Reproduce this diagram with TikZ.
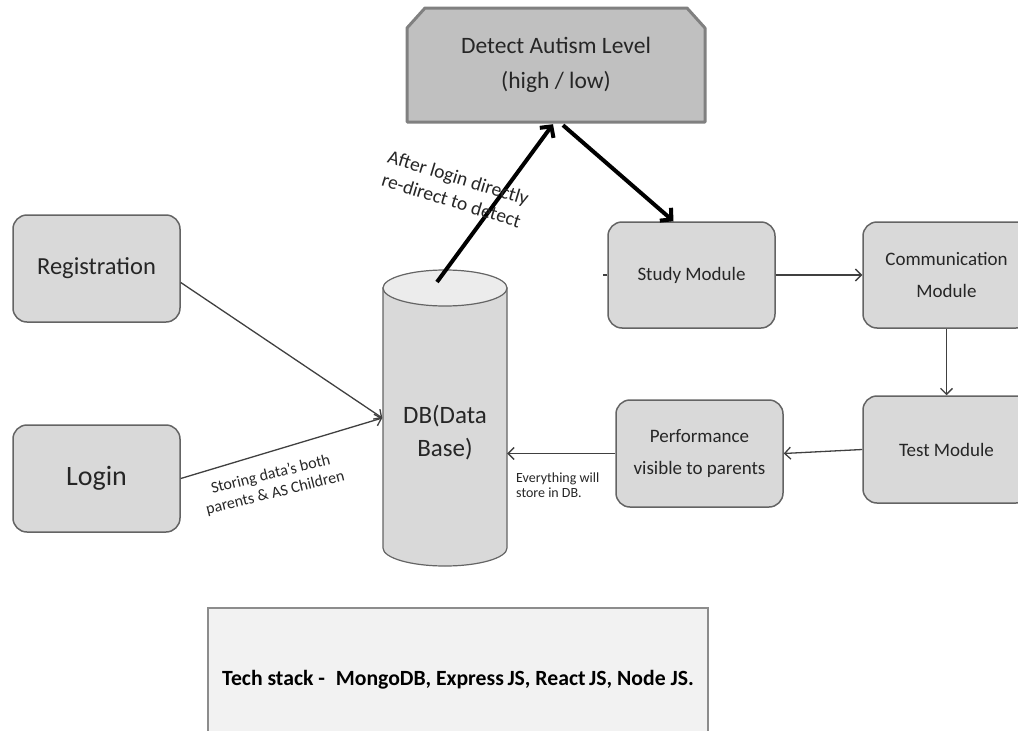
\documentclass[tikz,border=0pt]{standalone}
\usepackage{fontspec}
\setmainfont{Carlito}
\usetikzlibrary{arrows.meta}
\definecolor{txt}{RGB}{38,38,38}
\definecolor{boxfill}{RGB}{217,217,217}
\definecolor{boxline}{RGB}{100,100,100}
\definecolor{detfill}{RGB}{192,192,192}
\definecolor{detline}{RGB}{128,128,128}
\definecolor{dbtopfill}{RGB}{236,236,236}
\definecolor{techfill}{RGB}{242,242,242}
\definecolor{techline}{RGB}{140,140,140}
\definecolor{arr}{RGB}{64,64,64}
\begin{document}
\begin{tikzpicture}[x=1pt,y=-1pt,
  module/.style={draw=boxline, fill=boxfill, line width=1.5pt, rounded corners=14pt,
    minimum width=167pt, minimum height=106pt, inner sep=0pt, align=center, text=txt,
    font=\fontsize{19}{32}\selectfont},
  thinarrow/.style={draw=arr, line width=1.3pt, -{Straight Barb[length=6pt,width=12pt,line width=1.3pt]}},
  thickarrow/.style={draw=black, line width=4pt, -{Straight Barb[length=8pt,width=17pt]}},
  lbl/.style={text=txt, inner sep=0pt}]
\useasboundingbox (0,0) rectangle (1018,731);
\clip (0,0) rectangle (1018,731);

% Detect Autism Level (chamfered top corners)
\draw[draw=detline, fill=detfill, line width=3pt, line join=round]
  (425,8) -- (687,8) -- (705,28) -- (705,122) -- (407,122) -- (407,28) -- cycle;
\node[lbl, align=center, minimum width=298pt, minimum height=114pt,
  font=\fontsize{23.5}{35}\selectfont] (det) at (556,65) {Detect Autism Level\\(high / low)};

% Left boxes
\node[module, font=\fontsize{24.5}{30}\selectfont, minimum height=107pt] (reg) at (96.5,268.5) {Registration};
\node[module, font=\fontsize{28}{30}\selectfont, minimum height=107pt] (login) at (96.5,478.5) {Login};

% Database cylinder
\draw[draw=boxline, fill=boxfill, line width=1.2pt]
  (383,288) -- (383,548) arc[start angle=180, end angle=360, x radius=62pt, y radius=18pt] -- (507,288) -- cycle;
\draw[draw=boxline, fill=dbtopfill, line width=1.2pt] (445,288) ellipse [x radius=62pt, y radius=18pt];
\node[lbl, align=center, minimum width=124pt, font=\fontsize{25}{33}\selectfont] (db) at (445,433) {DB(Data\\Base)};
\coordinate (dbtop) at (437,282);

% Modules
\node[module] (study) at (691.5,275) {Study Module};
\node[module] (comm) at (946.5,275) {Communication\\Module};
\node[module, minimum height=107pt] (test) at (946.5,449.5) {Test Module};
\node[module, minimum height=107pt] (perf) at (699.5,453.5) {Performance\\visible to parents};

% Tech stack
\node[draw=techline, fill=techfill, line width=1.5pt, minimum width=500pt, minimum height=144pt,
  inner sep=0pt, text=black, font=\fontsize{21.7}{25}\selectfont\bfseries] (tech) at (458,680)
  {Tech stack -\enspace MongoDB, Express\,JS, React\,JS, Node JS.};

% Thick arrows
\draw[thickarrow] (dbtop) -- ([xshift=-3pt,yshift=-2pt]det.south);
\draw[thickarrow] ([xshift=7pt,yshift=-3pt]det.south) -- ([xshift=-18pt]study.north);

% Thin arrows
\draw[thinarrow] ([yshift=-14pt]reg.east) -- ([yshift=15pt,xshift=-0.5pt]db.west);
\draw[thinarrow] (login.east) -- ([yshift=15pt,xshift=-0.5pt]db.west);
\draw[thinarrow] (study.east) -- (comm.west);
\draw[thinarrow] (comm.south) -- (test.north);
\draw[thinarrow] (test.west) -- (perf.east);
\draw[thinarrow] (perf.west) -- (perf.west -| db.east);
\draw[draw=arr, line width=1.3pt] (study.west) -- ++(-4,0);

% Labels
\node[lbl, align=center, rotate=-17, font=\fontsize{19.5}{24}\selectfont] (lab1) at (455,189)
  {After login directly\\re-direct to detect};
\node[lbl, align=center, rotate=14, font=\fontsize{16}{19}\selectfont] (lab2) at (273,484)
  {Storing data's both\\parents \& AS Children};
\node[lbl, align=left, anchor=west, font=\fontsize{14}{15}\selectfont] (lab3) at (516,485)
  {Everything will\\store in DB.};
\end{tikzpicture}
\end{document}
